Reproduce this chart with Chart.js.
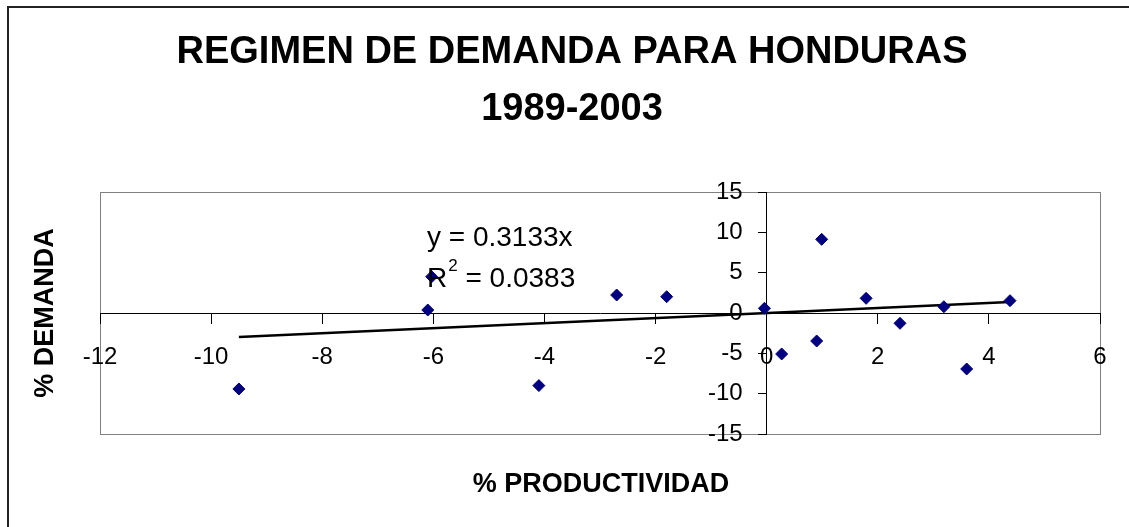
<!DOCTYPE html>
<html>
<head>
<meta charset="utf-8">
<script src="https://cdn.jsdelivr.net/npm/chart.js@4/dist/chart.umd.min.js"></script>
<style>
  html, body { margin: 0; padding: 0; background: #fff; }
  #wrap { width: 1129px; height: 527px; }
</style>
</head>
<body>
<div id="wrap"><canvas id="grafica_demanda"></canvas></div>
<script>
const productividad = [-9.50, -6.10, -6.03, -4.10, -2.70, -1.80, -0.04, 0.27, 0.90, 0.99, 1.79, 2.40, 3.19, 3.60, 4.38];
const demanda = [-9.42, 0.37, 4.50, -9.00, 2.23, 2.02, 0.58, -5.08, -3.47, 9.13, 1.82, -1.28, 0.78, -6.94, 1.53];
const tendenciaX = [-9.50, 4.38];
const tendenciaY = [-2.98, 1.37];
const titulo = ['REGIMEN DE DEMANDA PARA HONDURAS', '1989-2003'];
const ecuacion = 'y = 0.3133x';
const r2 = '0.0383';

const fuente = "'Liberation Sans', Arial, sans-serif";

const textos = {
  id: 'textos',
  beforeDraw(chart) {
    const ctx = chart.ctx;
    const a = chart.chartArea;
    ctx.save();
    ctx.strokeStyle = '#808080';
    ctx.lineWidth = 1;
    ctx.strokeRect(a.left + 0.5, a.top + 0.5, a.right - a.left, a.bottom - a.top);
    ctx.restore();
  },
  afterDraw(chart) {
    const ctx = chart.ctx;
    ctx.save();
    ctx.strokeStyle = '#222';
    ctx.lineWidth = 2;
    ctx.strokeRect(8, 7, 1300, 700);

    ctx.fillStyle = '#000';
    ctx.textBaseline = 'middle';
    ctx.textAlign = 'center';
    ctx.font = 'bold 38px ' + fuente;
    ctx.fillText(titulo[0], 572, 53);
    ctx.fillText(titulo[1], 572, 110);

    ctx.font = 'bold 27px ' + fuente;
    ctx.fillText('% PRODUCTIVIDAD', 601, 485);
    ctx.save();
    ctx.translate(46, 313);
    ctx.rotate(-Math.PI / 2);
    ctx.fillText('% DEMANDA', 0, 0);
    ctx.restore();

    ctx.textAlign = 'left';
    ctx.font = '28px ' + fuente;
    ctx.fillText(ecuacion, 427, 238);
    ctx.fillText('R', 427, 279);
    const wR = ctx.measureText('R').width;
    ctx.font = '17px ' + fuente;
    ctx.fillText('2', 427 + wR + 1, 266);
    const w2 = ctx.measureText('2').width;
    ctx.font = '28px ' + fuente;
    ctx.fillText(' = ' + r2, 427 + wR + w2 + 1, 279);
    ctx.restore();
  }
};

const ctx = document.getElementById('grafica_demanda').getContext('2d');
new Chart(ctx, {
  type: 'scatter',
  data: {
    datasets: [{
      label: '% DEMANDA',
      data: productividad.map((x, i) => ({ x: x, y: demanda[i] })),
      backgroundColor: '#000080',
      borderColor: '#000080',
      pointStyle: 'rectRot',
      pointRadius: 6,
      pointHoverRadius: 6
    }, {
      type: 'line',
      label: 'Tendencia',
      data: tendenciaX.map((x, i) => ({ x: x, y: tendenciaY[i] })),
      borderColor: '#000',
      borderWidth: 2.5,
      pointRadius: 0,
      fill: false
    }]
  },
  options: {
    responsive: true,
    maintainAspectRatio: false,
    animation: false,
    layout: { padding: { left: 100, right: 29, top: 192, bottom: 93 } },
    plugins: {
      legend: { display: false },
      tooltip: { enabled: false },
      title: { display: false }
    },
    scales: {
      x: {
        type: 'linear',
        position: { y: 0 },
        min: -12,
        max: 6,
        grid: { drawOnChartArea: false, drawTicks: true, tickLength: 10, color: '#000' },
        border: { display: true, color: '#000', width: 1 },
        ticks: {
          stepSize: 2,
          autoSkip: false,
          maxRotation: 0,
          padding: 20,
          color: '#000',
          font: { family: fuente, size: 24 }
        }
      },
      y: {
        type: 'linear',
        position: { x: 0 },
        min: -15,
        max: 15,
        grid: { drawOnChartArea: false, drawTicks: true, tickLength: 8, color: '#000' },
        border: { display: true, color: '#000', width: 1 },
        ticks: {
          stepSize: 5,
          autoSkip: false,
          color: '#000',
          font: { family: fuente, size: 24 },
          callback: v => v + '\u2002\u2002'
        }
      }
    }
  },
  plugins: [textos]
});
</script>
</body>
</html>
